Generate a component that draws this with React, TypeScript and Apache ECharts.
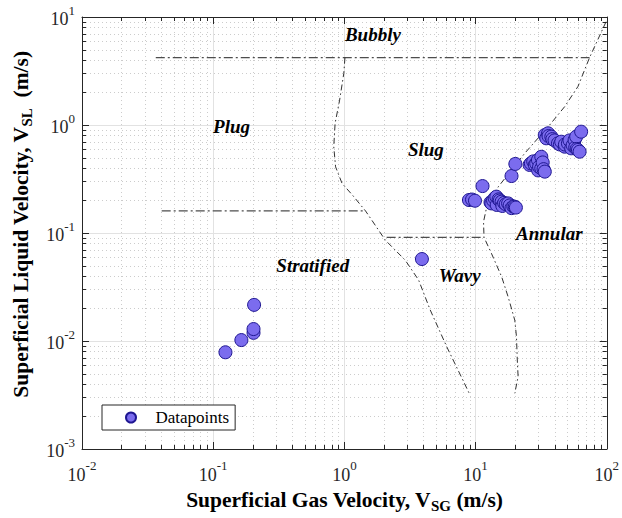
import React, { useEffect, useRef } from "react";
import * as echarts from "echarts";

const SERIF = "Liberation Serif";

const xTickValues = [0.01, 0.1, 1, 10, 100];
const yTickValues = [0.001, 0.01, 0.1, 1, 10];
const minorMultipliers = [2, 3, 4, 5, 6, 7, 8, 9];

// Measured datapoints
const gasVelocity = [
  0.124, 0.164, 0.203, 0.203, 0.205,
  3.9,
  8.9, 9.4, 9.9, 11.3, 13.0, 13.2, 13.6, 14.0, 14.4, 14.5, 15.0, 15.3, 15.8, 16.0, 16.5, 17.0, 17.7, 18.2, 18.8, 19.4, 19.9, 20.3,
  18.8, 20.1,
  25.8, 26.4, 27.5, 28.3, 29.0, 29.9, 30.0, 30.5, 31.7, 31.7, 32.5, 33.0, 33.7,
  33.7, 34.6, 35.7, 36.0, 37.8, 38.5, 40.0, 42.5, 44.0, 45.0, 47.8, 48.0, 50.6, 52.0, 53.6, 55.0, 56.9, 57.5, 58.5, 59.0, 60.3, 62.1, 63.8,
];
const liquidVelocity = [
  0.00786, 0.0102, 0.0119, 0.0129, 0.0216,
  0.0574,
  0.202, 0.204, 0.199, 0.272, 0.192, 0.188, 0.2, 0.21, 0.217, 0.182, 0.205, 0.2, 0.195, 0.178, 0.19, 0.185, 0.188, 0.18, 0.17, 0.176, 0.175, 0.172,
  0.337, 0.436,
  0.427, 0.442, 0.46, 0.427, 0.44, 0.474, 0.38, 0.41, 0.508, 0.397, 0.45, 0.39, 0.37,
  0.807, 0.753, 0.838, 0.79, 0.78, 0.74, 0.72, 0.677, 0.66, 0.7, 0.63, 0.66, 0.677, 0.72, 0.608, 0.65, 0.727, 0.62, 0.78, 0.6, 0.588, 0.566, 0.867,
];

// Flow regime boundaries
const bubblyLineX = [0.0365, 73.9];
const bubblyLineY = [4.2, 4.2];
const plugLineX = [0.0405, 1.45];
const plugLineY = [0.16, 0.16];
const wavyLineX = [2.1, 11.6];
const wavyLineY = [0.0912, 0.0912];
const slugLeftX = [1.01, 0.99, 0.92, 0.85, 0.83, 0.857, 0.96, 1.15, 1.45, 2.05, 2.91, 3.68, 4.51, 6.03, 9.08];
const slugLeftY = [4.2, 3.01, 1.7, 1.04, 0.63, 0.41, 0.288, 0.225, 0.16, 0.086, 0.056, 0.0367, 0.0194, 0.00885, 0.00316];
const annularX = [98.8, 73.9, 60.3, 47.8, 36.7, 23.7, 14.9, 12.1, 11.5, 11.6, 13.2, 15.8, 17.7, 19.9, 20.5, 20.8, 21.1, 19.9];
const annularY = [9.04, 4.2, 2.27, 1.48, 1.0, 0.547, 0.268, 0.169, 0.127, 0.0912, 0.0649, 0.0394, 0.0257, 0.0156, 0.011, 0.00667, 0.00467, 0.00328];

const regionNames = ["Bubbly", "Plug", "Slug", "Stratified", "Wavy", "Annular"];
const regionX = [1.65, 0.138, 4.18, 0.574, 7.57, 36.5];
const regionY = [6.93, 0.96, 0.593, 0.0504, 0.0406, 0.0988];

const pairs = (xs: number[], ys: number[]) => xs.map((x, i) => [x, ys[i]]);

export default function App() {
  const ref = useRef<HTMLDivElement>(null);
  useEffect(() => {
    document.body.style.margin = "0";
    const chart = echarts.init(ref.current!, null, { renderer: "svg" });
    const xMin = xTickValues[0], xMax = xTickValues[xTickValues.length - 1];
    const yMin = yTickValues[0], yMax = yTickValues[yTickValues.length - 1];
    const minorData: any[] = [];
    xTickValues.slice(0, -1).forEach((d) => minorMultipliers.forEach((m) => minorData.push([d * m, yMin, 0])));
    yTickValues.slice(0, -1).forEach((d) => minorMultipliers.forEach((m) => minorData.push([xMin, d * m, 1])));

    const tickLabel = {
      formatter: (v: number) => `{b|10}{s|${Math.round(Math.log10(v))}}`,
      rich: {
        b: { fontSize: 18, fontFamily: SERIF, color: "#262626", padding: [4, 0, 0, 0] },
        s: { fontSize: 13, fontFamily: SERIF, color: "#262626", padding: [0, 0, 14, 0] },
      },
    };
    const axisCommon = {
      type: "log",
      logBase: 10,
      splitNumber: 4,
      axisLine: { show: true, lineStyle: { color: "#262626", width: 1 } },
      axisTick: { show: true, inside: true, length: 7, lineStyle: { color: "#262626" } },
    };
    const nameRich = {
      b: { fontSize: 21.5, fontWeight: "bold", fontFamily: SERIF, color: "#000" },
      sub: { fontSize: 15, fontWeight: "bold", fontFamily: SERIF, color: "#000", padding: [12, 0, 0, 0] },
    };
    const boundaryStyle = (w: number, c: string, dash: number[]) => ({
      type: "line",
      showSymbol: false,
      symbol: "none",
      silent: true,
      z: 2,
      lineStyle: { color: c, width: w, type: dash },
    });

    chart.setOption({
      animation: false,
      textStyle: { fontFamily: SERIF },
      grid: { left: 82, right: 13, top: 17, bottom: 69 },
      xAxis: [
        {
          ...axisCommon,
          min: xMin,
          max: xMax,
          position: "bottom",
          axisLabel: { ...tickLabel, margin: 10 },
          splitLine: { show: true, lineStyle: { color: "#e2e2e2", width: 1 } },
          name: "{b|Superficial Gas Velocity, V}{sub|SG}{b| (m/s)}",
          nameLocation: "middle",
          nameGap: 37,
          nameTextStyle: { rich: nameRich },
        },
        {
          ...axisCommon,
          min: xMin,
          max: xMax,
          position: "top",
          axisLabel: { show: false },
          splitLine: { show: false },
        },
      ],
      yAxis: [
        {
          ...axisCommon,
          min: yMin,
          max: yMax,
          position: "left",
          axisLabel: { ...tickLabel, margin: 7 },
          splitLine: { show: true, lineStyle: { color: "#e2e2e2", width: 1 } },
          name: "{b|Superficial Liquid Velocity, V}{sub|SL}{b|  (m/s)}",
          nameLocation: "middle",
          nameGap: 48,
          nameTextStyle: { rich: nameRich, padding: [0, 0, 0, 17] },
        },
        {
          ...axisCommon,
          min: yMin,
          max: yMax,
          position: "right",
          axisLabel: { show: false },
          splitLine: { show: false },
        },
      ],
      legend: {
        data: ["Datapoints"],
        left: 102,
        top: 405,
        orient: "vertical",
        padding: [4, 6, 4, 23],
        itemWidth: 25,
        itemHeight: 10,
        itemGap: 0,
        borderColor: "#262626",
        borderWidth: 1,
        borderRadius: 0,
        backgroundColor: "#ffffff",
        textStyle: { fontSize: 17, fontFamily: SERIF, color: "#000", padding: [0, 0, 0, 7] },
      },
      series: [
        {
          type: "custom",
          silent: true,
          z: 1,
          data: minorData,
          renderItem: (_p: any, api: any) => {
            const kind = api.value(2);
            let a: number[], b: number[];
            if (kind === 0) {
              const v = api.value(0);
              a = api.coord([v, yMin]);
              b = api.coord([v, yMax]);
              const x = Math.round(a[0]) + 0.5;
              return {
                type: "group",
                children: [
                  { type: "line", shape: { x1: x, y1: a[1], x2: x, y2: b[1] }, style: { stroke: "#cccccc", lineWidth: 1, lineDash: [1, 3] } },
                  { type: "line", shape: { x1: x, y1: a[1], x2: x, y2: a[1] - 4 }, style: { stroke: "#262626", lineWidth: 1 } },
                  { type: "line", shape: { x1: x, y1: b[1], x2: x, y2: b[1] + 4 }, style: { stroke: "#262626", lineWidth: 1 } },
                ],
              };
            }
            const v = api.value(1);
            a = api.coord([xMin, v]);
            b = api.coord([xMax, v]);
            const y = Math.round(a[1]) + 0.5;
            return {
              type: "group",
              children: [
                { type: "line", shape: { x1: a[0], y1: y, x2: b[0], y2: y }, style: { stroke: "#cccccc", lineWidth: 1, lineDash: [1, 3] } },
                { type: "line", shape: { x1: a[0], y1: y, x2: a[0] + 4, y2: y }, style: { stroke: "#262626", lineWidth: 1 } },
                { type: "line", shape: { x1: b[0], y1: y, x2: b[0] - 4, y2: y }, style: { stroke: "#262626", lineWidth: 1 } },
              ],
            };
          },
        },
        { ...boundaryStyle(1.2, "#4d4d4d", [9, 3, 2, 3]), data: pairs(bubblyLineX, bubblyLineY) },
        { ...boundaryStyle(1.2, "#4d4d4d", [9, 3, 2, 3]), data: pairs(plugLineX, plugLineY) },
        { ...boundaryStyle(1.2, "#4d4d4d", [9, 3, 2, 3]), data: pairs(wavyLineX, wavyLineY) },
        { ...boundaryStyle(0.9, "#1a1a1a", [6, 3, 1.5, 3]), data: pairs(slugLeftX, slugLeftY) },
        { ...boundaryStyle(0.9, "#1a1a1a", [6, 3, 1.5, 3]), data: pairs(annularX, annularY) },
        {
          name: "Datapoints",
          type: "scatter",
          z: 3,
          symbol: "circle",
          symbolSize: 13,
          itemStyle: { color: "#7b6cee", borderColor: "#1e1691", borderWidth: 1, opacity: 1 },
          data: pairs(gasVelocity, liquidVelocity),
        },
        {
          name: "regions",
          type: "scatter",
          z: 4,
          silent: true,
          symbolSize: 1,
          itemStyle: { color: "rgba(255,255,255,0)" },
          label: {
            show: true,
            position: "inside",
            formatter: (p: any) => p.name,
            fontSize: 19,
            fontWeight: "bold",
            fontStyle: "italic",
            fontFamily: SERIF,
            color: "#000000",
            opacity: 1,
            textBorderWidth: 0,
            textBorderColor: "transparent",
          },
          data: regionNames.map((n, i) => ({ name: n, value: [regionX[i], regionY[i]] })),
        },
      ],
    });
    return () => chart.dispose();
  }, []);
  return <div ref={ref} style={{ width: 622, height: 518, background: "#fff" }} />;
}
